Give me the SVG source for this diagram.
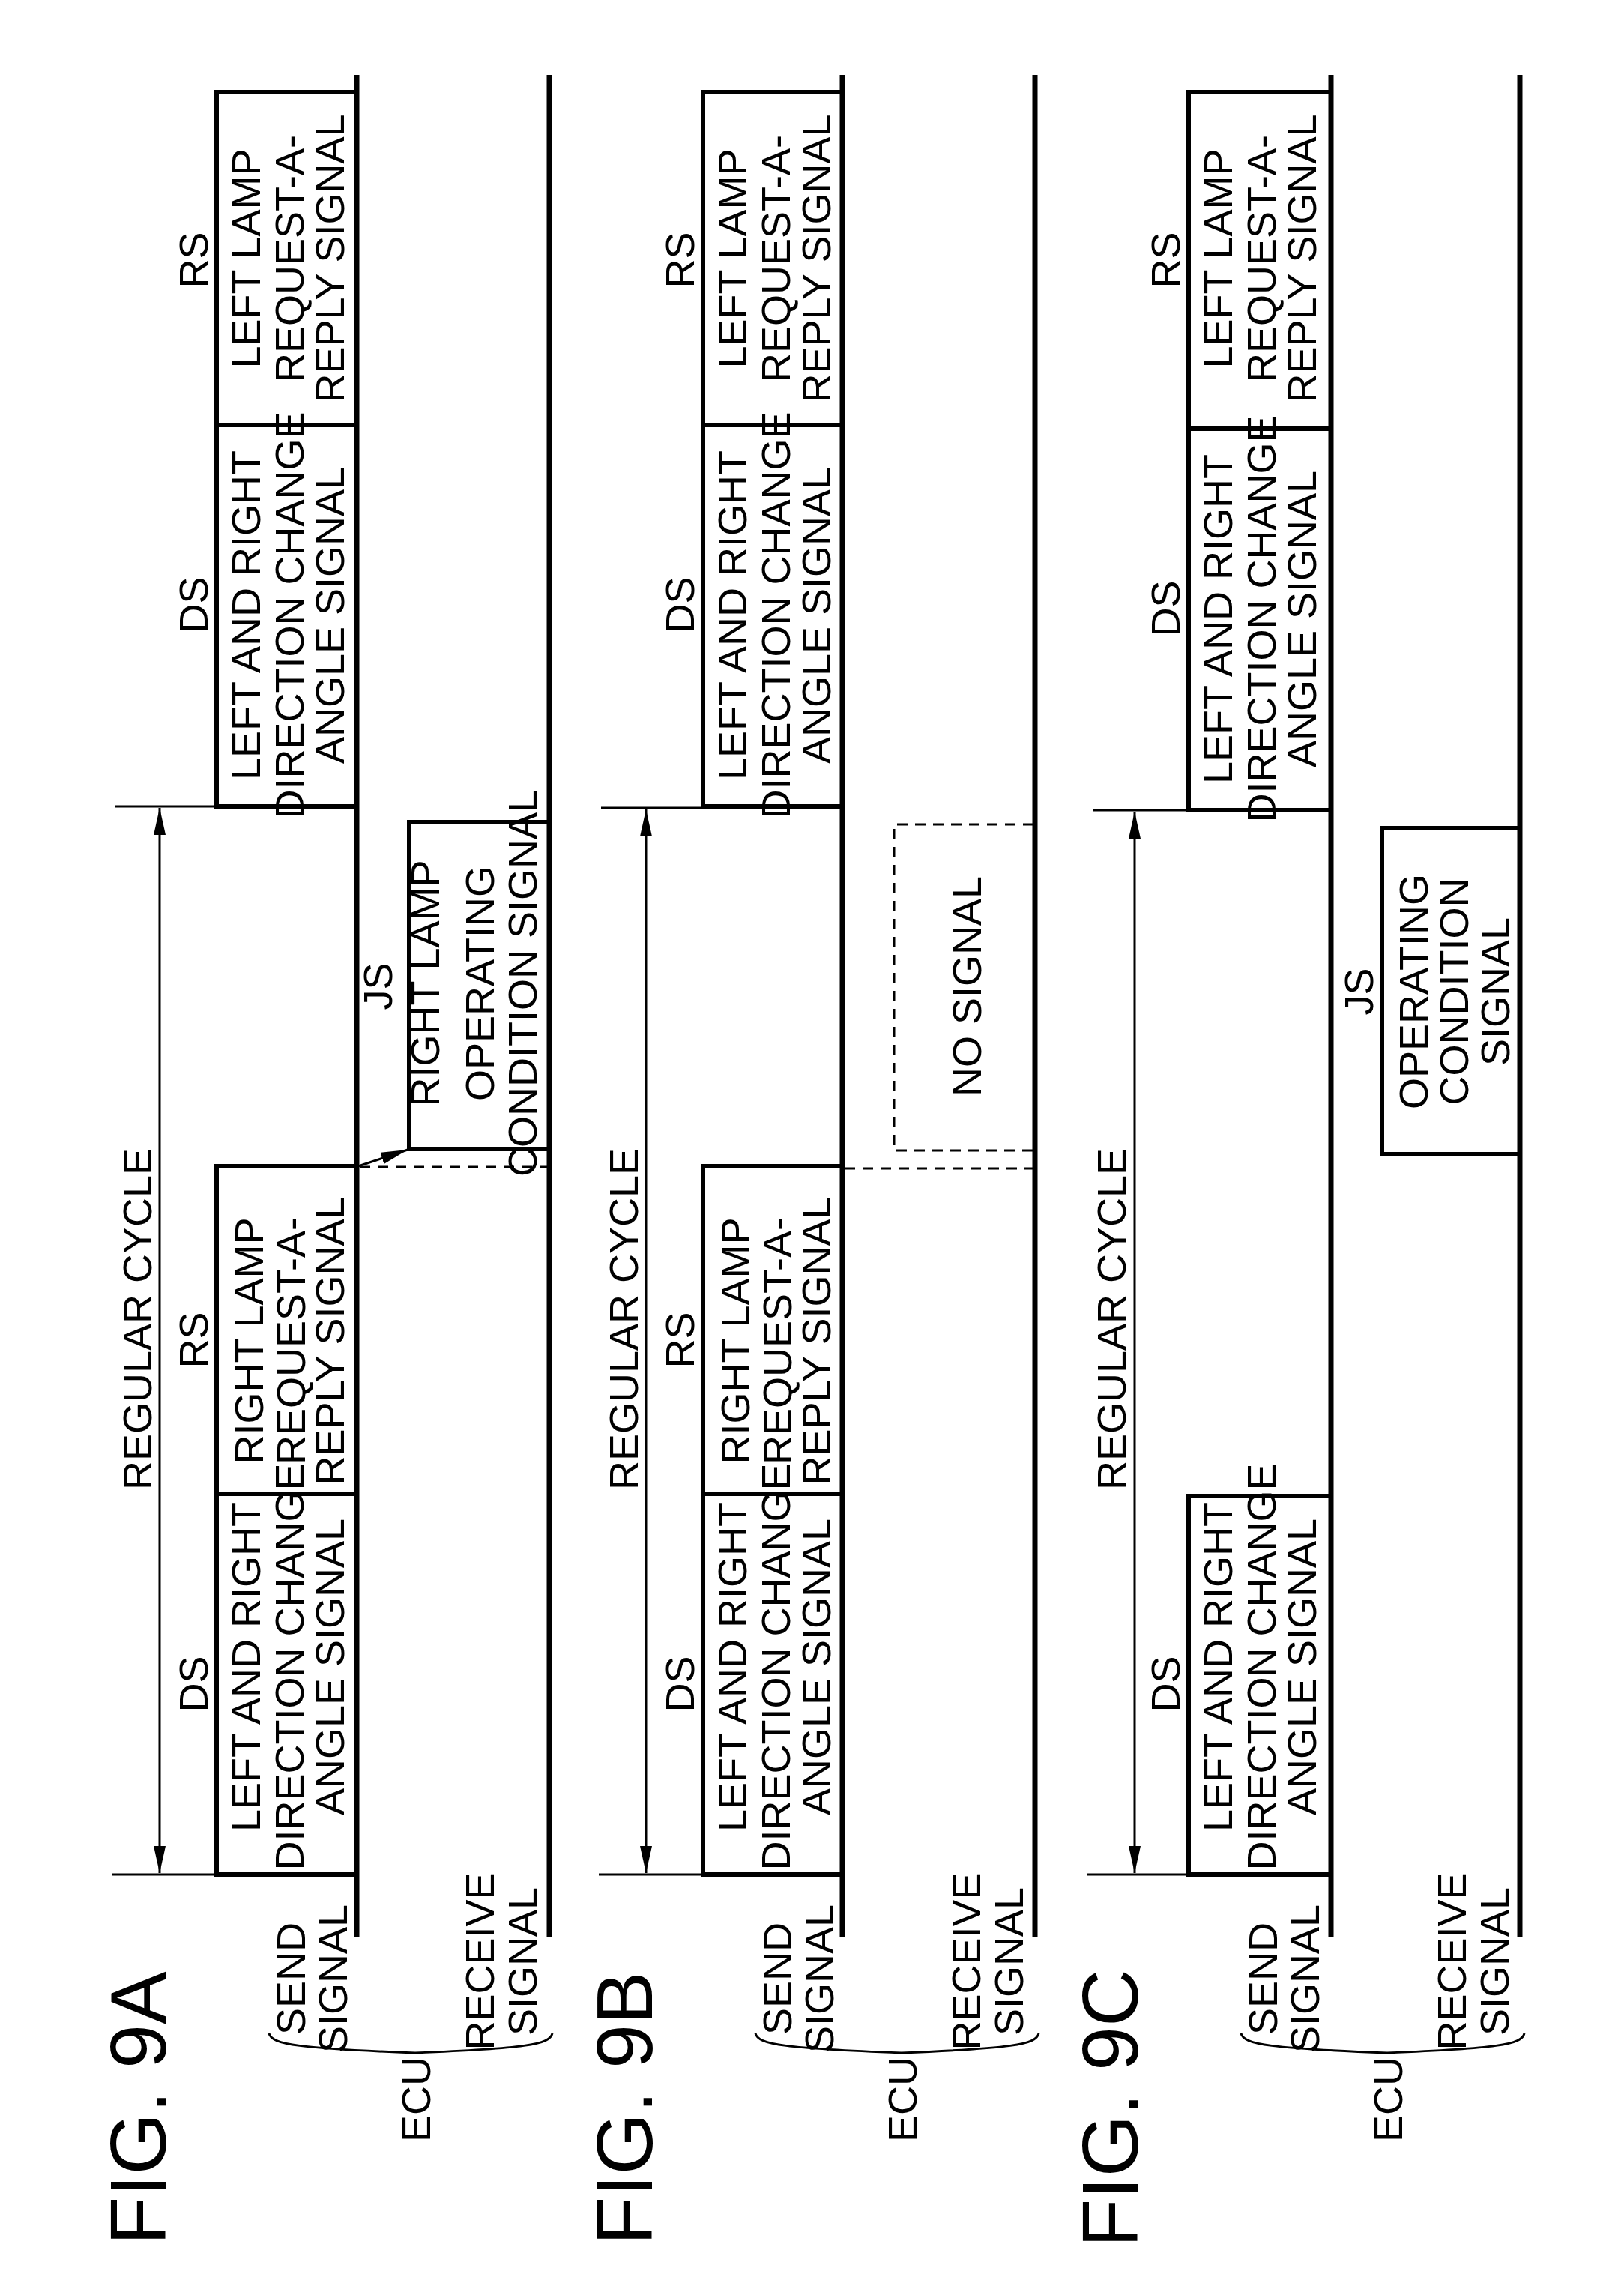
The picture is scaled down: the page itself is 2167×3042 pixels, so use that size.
<svg xmlns="http://www.w3.org/2000/svg" width="2167" height="3042" viewBox="0 0 2167 3042">
<style>
text{font-family:"Liberation Sans Narrow","Liberation Sans",Arial,sans-serif;fill:#000;text-anchor:middle}
.t{font-size:54px}
.fig{font-size:106px;font-family:"Liberation Sans",Arial,sans-serif}
.ln{stroke:#000;stroke-width:7;fill:none}
.bx{stroke:#000;stroke-width:6;fill:none}
.th{stroke:#000;stroke-width:3;fill:none}
.ds{stroke:#000;stroke-width:3;fill:none;stroke-dasharray:14 10}
</style>
<defs>
<marker id="ah" markerWidth="10" markerHeight="8" refX="10" refY="4" orient="auto" markerUnits="userSpaceOnUse" viewBox="0 0 10 8">
<path d="M0,0 L10,4 L0,8 z" fill="#000"/>
</marker>
<marker id="ab" markerWidth="36" markerHeight="16" refX="36" refY="8" orient="auto" markerUnits="userSpaceOnUse" viewBox="0 0 36 16">
<path d="M0,0 L36,8 L0,16 z" fill="#000"/>
</marker>
<marker id="as" markerWidth="36" markerHeight="16" refX="0" refY="8" orient="auto" markerUnits="userSpaceOnUse" viewBox="0 0 36 16">
<path d="M36,0 L0,8 L36,16 z" fill="#000"/>
</marker>
</defs>

<!-- FIG 9A -->
<g id="fig9A">
<text class="fig" transform="translate(221,2813) rotate(-90)">FIG. 9A</text>
<g id="ecuA">
<text class="t" transform="translate(407,2640) rotate(-90)">SEND</text>
<text class="t" transform="translate(463,2640) rotate(-90)">SIGNAL</text>
<text class="t" transform="translate(659,2617) rotate(-90)">RECEIVE</text>
<text class="t" transform="translate(716,2617) rotate(-90)">SIGNAL</text>
<path class="th" d="M359,2713 C362,2728 400,2733 554,2739 C700,2733 734,2728 737,2713"/>
<text class="t" transform="translate(574,2801) rotate(-90)">ECU</text>
</g>
<g id="A_DS2"><path class="bx" d="M476,567 H289 V1076 H476"/>
<text class="t" transform="translate(277,807) rotate(-90)">DS</text>
<text class="t" transform="translate(347,821) rotate(-90)">LEFT AND RIGHT</text>
<text class="t" transform="translate(405,821) rotate(-90)">DIRECTION CHANGE</text>
<text class="t" transform="translate(459,821) rotate(-90)">ANGLE SIGNAL</text></g>
<g id="A_RS2"><path class="bx" d="M476,123 H289 V567"/>
<text class="t" transform="translate(277,347) rotate(-90)">RS</text>
<text class="t" transform="translate(347,345) rotate(-90)">LEFT LAMP</text>
<text class="t" transform="translate(405,345) rotate(-90)">REQUEST-A-</text>
<text class="t" transform="translate(459,345) rotate(-90)">REPLY SIGNAL</text></g>
<g id="A_RS1"><path class="bx" d="M476,1556 H289 V1993 H476"/>
<text class="t" transform="translate(277,1788) rotate(-90)">RS</text>
<text class="t" transform="translate(351,1789) rotate(-90)">RIGHT LAMP</text>
<text class="t" transform="translate(407,1789) rotate(-90)">REQUEST-A-</text>
<text class="t" transform="translate(459,1789) rotate(-90)">REPLY SIGNAL</text></g>
<g id="A_DS1"><path class="bx" d="M289,1993 V2501 H476"/>
<text class="t" transform="translate(277,2247) rotate(-90)">DS</text>
<text class="t" transform="translate(347,2224) rotate(-90)">LEFT AND RIGHT</text>
<text class="t" transform="translate(405,2224) rotate(-90)">DIRECTION CHANGE</text>
<text class="t" transform="translate(459,2224) rotate(-90)">ANGLE SIGNAL</text></g>
<g id="A_JS"><path class="bx" d="M733,1097 H546 V1533 H733"/>
<text class="t" transform="translate(523,1316) rotate(-90)">JS</text>
<text class="t" transform="translate(586,1312) rotate(-90)">RIGHT LAMP</text>
<text class="t" transform="translate(659,1312) rotate(-90)">OPERATING</text>
<text class="t" transform="translate(716,1312) rotate(-90)">CONDITION SIGNAL</text></g>
<text class="t" transform="translate(202,1760) rotate(-90)">REGULAR CYCLE</text>
</g>

<!-- FIG 9B -->
<g id="fig9B">
<text class="fig" transform="translate(870,2813) rotate(-90)">FIG. 9B</text>
<g id="ecuB" transform="translate(649,0)">
<text class="t" transform="translate(407,2640) rotate(-90)">SEND</text>
<text class="t" transform="translate(463,2640) rotate(-90)">SIGNAL</text>
<text class="t" transform="translate(659,2617) rotate(-90)">RECEIVE</text>
<text class="t" transform="translate(716,2617) rotate(-90)">SIGNAL</text>
<path class="th" d="M359,2713 C362,2728 400,2733 554,2739 C700,2733 734,2728 737,2713"/>
<text class="t" transform="translate(574,2801) rotate(-90)">ECU</text>
</g>
<g id="B_DS2" transform="translate(649,0)"><path class="bx" d="M476,567 H289 V1076 H476"/>
<text class="t" transform="translate(277,807) rotate(-90)">DS</text>
<text class="t" transform="translate(347,821) rotate(-90)">LEFT AND RIGHT</text>
<text class="t" transform="translate(405,821) rotate(-90)">DIRECTION CHANGE</text>
<text class="t" transform="translate(459,821) rotate(-90)">ANGLE SIGNAL</text></g>
<g id="B_RS2" transform="translate(649,0)"><path class="bx" d="M476,123 H289 V567"/>
<text class="t" transform="translate(277,347) rotate(-90)">RS</text>
<text class="t" transform="translate(347,345) rotate(-90)">LEFT LAMP</text>
<text class="t" transform="translate(405,345) rotate(-90)">REQUEST-A-</text>
<text class="t" transform="translate(459,345) rotate(-90)">REPLY SIGNAL</text></g>
<g id="B_RS1" transform="translate(649,0)"><path class="bx" d="M476,1556 H289 V1993 H476"/>
<text class="t" transform="translate(277,1788) rotate(-90)">RS</text>
<text class="t" transform="translate(351,1789) rotate(-90)">RIGHT LAMP</text>
<text class="t" transform="translate(407,1789) rotate(-90)">REQUEST-A-</text>
<text class="t" transform="translate(459,1789) rotate(-90)">REPLY SIGNAL</text></g>
<g id="B_DS1" transform="translate(649,0)"><path class="bx" d="M289,1993 V2501 H476"/>
<text class="t" transform="translate(277,2247) rotate(-90)">DS</text>
<text class="t" transform="translate(347,2224) rotate(-90)">LEFT AND RIGHT</text>
<text class="t" transform="translate(405,2224) rotate(-90)">DIRECTION CHANGE</text>
<text class="t" transform="translate(459,2224) rotate(-90)">ANGLE SIGNAL</text></g>
<g id="B_NS"><path class="ds" d="M1379,1100 H1193 V1535 H1379"/>
<text class="t" transform="translate(1309,1316) rotate(-90)">NO SIGNAL</text></g>
<text class="t" transform="translate(851,1760) rotate(-90)">REGULAR CYCLE</text>
</g>

<!-- FIG 9C -->
<g id="fig9C">
<text class="fig" transform="translate(1518,2813) rotate(-90)">FIG. 9C</text>
<g id="ecuC" transform="translate(1297,0)">
<text class="t" transform="translate(407,2640) rotate(-90)">SEND</text>
<text class="t" transform="translate(463,2640) rotate(-90)">SIGNAL</text>
<text class="t" transform="translate(659,2617) rotate(-90)">RECEIVE</text>
<text class="t" transform="translate(716,2617) rotate(-90)">SIGNAL</text>
<path class="th" d="M359,2713 C362,2728 400,2733 554,2739 C700,2733 734,2728 737,2713"/>
<text class="t" transform="translate(574,2801) rotate(-90)">ECU</text>
</g>
<g id="C_DS2" transform="translate(1297,5)"><path class="bx" d="M476,567 H289 V1076 H476"/>
<text class="t" transform="translate(277,807) rotate(-90)">DS</text>
<text class="t" transform="translate(347,821) rotate(-90)">LEFT AND RIGHT</text>
<text class="t" transform="translate(405,821) rotate(-90)">DIRECTION CHANGE</text>
<text class="t" transform="translate(459,821) rotate(-90)">ANGLE SIGNAL</text></g>
<g id="C_RS2" transform="translate(1297,0)"><path class="bx" d="M476,123 H289 V572"/>
<text class="t" transform="translate(277,347) rotate(-90)">RS</text>
<text class="t" transform="translate(347,345) rotate(-90)">LEFT LAMP</text>
<text class="t" transform="translate(405,345) rotate(-90)">REQUEST-A-</text>
<text class="t" transform="translate(459,345) rotate(-90)">REPLY SIGNAL</text></g>
<g id="C_DS1" transform="translate(1297,0)"><path class="bx" d="M476,1996 H289 V2501 H476"/>
<text class="t" transform="translate(277,2247) rotate(-90)">DS</text>
<text class="t" transform="translate(347,2224) rotate(-90)">LEFT AND RIGHT</text>
<text class="t" transform="translate(405,2224) rotate(-90)">DIRECTION CHANGE</text>
<text class="t" transform="translate(459,2224) rotate(-90)">ANGLE SIGNAL</text></g>
<g id="C_JS"><path class="bx" d="M2028,1105 H1844 V1540 H2028"/>
<text class="t" transform="translate(1832,1323) rotate(-90)">JS</text>
<text class="t" transform="translate(1905,1323) rotate(-90)">OPERATING</text>
<text class="t" transform="translate(1959,1323) rotate(-90)">CONDITION</text>
<text class="t" transform="translate(2014,1323) rotate(-90)">SIGNAL</text></g>
<text class="t" transform="translate(1502,1760) rotate(-90)">REGULAR CYCLE</text>
</g>

<g id="connectors">
<!-- signal lines -->
<line class="ln" x1="476" y1="100" x2="476" y2="2584"/>
<line class="ln" x1="733" y1="100" x2="733" y2="2584"/>
<line class="ln" x1="1124" y1="100" x2="1124" y2="2584"/>
<line class="ln" x1="1381" y1="100" x2="1381" y2="2584"/>
<line class="ln" x1="1776" y1="100" x2="1776" y2="2584"/>
<line class="ln" x1="2028" y1="100" x2="2028" y2="2584"/>
<!-- cycle boundaries -->
<line class="th" x1="153" y1="1076" x2="289" y2="1076"/>
<line class="th" x1="150" y1="2501" x2="289" y2="2501"/>
<line class="th" x1="802" y1="1078" x2="938" y2="1078"/>
<line class="th" x1="799" y1="2501" x2="938" y2="2501"/>
<line class="th" x1="1458" y1="1081" x2="1586" y2="1081"/>
<line class="th" x1="1450" y1="2501" x2="1586" y2="2501"/>
<line class="th" x1="213" y1="1078" x2="213" y2="2499" marker-start="url(#as)" marker-end="url(#ab)"/>
<line class="th" x1="862" y1="1080" x2="862" y2="2499" marker-start="url(#as)" marker-end="url(#ab)"/>
<line class="th" x1="1514" y1="1083" x2="1514" y2="2499" marker-start="url(#as)" marker-end="url(#ab)"/>
<!-- 9A JS arrow and dashed -->
<line class="th" x1="478" y1="1556" x2="544" y2="1534" marker-end="url(#ab)"/>
<line class="ds" x1="480" y1="1557" x2="733" y2="1557"/>
<!-- 9B dashed -->
<line class="ds" x1="1127" y1="1559" x2="1381" y2="1559"/>
</g>
</svg>
